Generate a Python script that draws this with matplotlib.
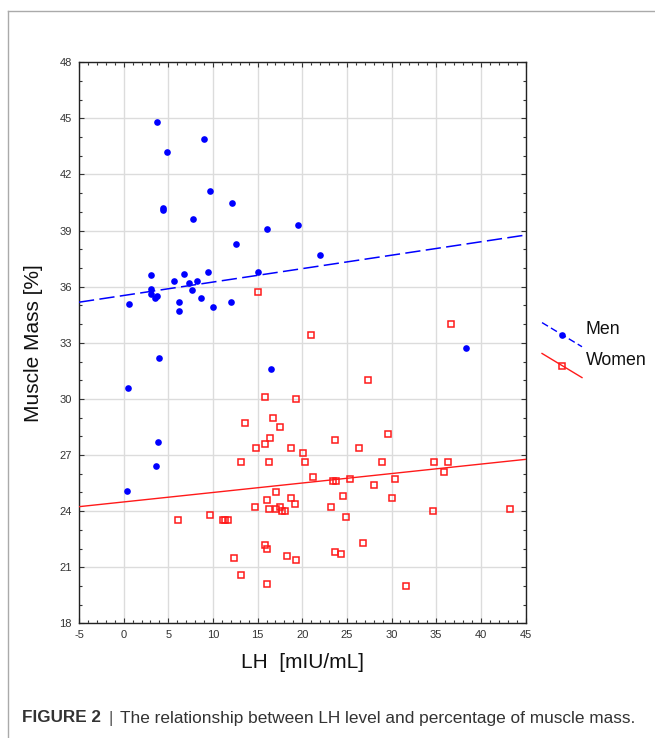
import numpy as np
import matplotlib
matplotlib.use("Agg")
import matplotlib.pyplot as plt
from matplotlib.lines import Line2D
from matplotlib.ticker import MultipleLocator

plt.rcParams['font.family'] = ['Liberation Sans', 'DejaVu Sans']
plt.rcParams['axes.unicode_minus'] = False

# Men: LH [mIU/mL] vs muscle mass [%]
men_lh = [3.7, 9.0, 4.9, 9.7, 12.1, 4.45, 4.45, 7.8, 16.1, 19.5, 12.6, 22.0,
          3.1, 6.8, 9.4, 15.0, 5.6, 7.3, 8.2, 7.7, 3.1, 3.1, 3.7, 3.5,
          0.6, 6.2, 8.7, 12.0, 10.0, 6.2, 4.0, 16.5, 0.5, 3.9, 3.6, 0.4, 38.3]
men_mm = [44.8, 43.9, 43.2, 41.1, 40.5, 40.2, 40.1, 39.6, 39.1, 39.3, 38.3, 37.7,
          36.6, 36.7, 36.8, 36.8, 36.3, 36.2, 36.3, 35.8, 35.9, 35.6, 35.5, 35.4,
          35.1, 35.2, 35.4, 35.2, 34.9, 34.7, 32.2, 31.6, 30.6, 27.7, 26.4, 25.1, 32.7]

# Women
women_lh = [15.0, 36.7, 21.0, 27.4, 15.8, 19.3, 16.7, 13.6, 17.5, 29.6, 16.4,
            23.7, 15.8, 14.8, 18.7, 26.3, 20.1, 13.1, 16.3, 20.3, 28.9, 34.7,
            36.3, 35.9, 21.2, 23.4, 23.8, 25.4, 30.4, 28.0, 17.1, 18.75, 24.6,
            30.1, 16.0, 19.15, 14.75, 16.3, 17.1, 17.5, 17.7, 18.1, 23.2, 24.9,
            34.65, 43.3, 6.1, 9.7, 11.1, 11.4, 11.7, 26.8, 23.7, 24.3, 18.3,
            19.3, 15.8, 16.1, 12.4, 13.1, 16.1, 31.6]
women_mm = [35.7, 34.0, 33.4, 31.0, 30.1, 30.0, 29.0, 28.7, 28.5, 28.1, 27.9,
            27.8, 27.6, 27.4, 27.4, 27.4, 27.1, 26.6, 26.6, 26.6, 26.6, 26.6,
            26.6, 26.1, 25.8, 25.6, 25.6, 25.7, 25.7, 25.4, 25.0, 24.7, 24.8,
            24.7, 24.6, 24.4, 24.2, 24.1, 24.1, 24.2, 24.0, 24.0, 24.2, 23.7,
            24.0, 24.1, 23.5, 23.8, 23.5, 23.5, 23.5, 22.3, 21.8, 21.7, 21.6,
            21.4, 22.2, 22.0, 21.5, 20.6, 20.1, 20.0]

# fitted lines (intercept, slope) as drawn in the figure
men_fit = (35.53, 0.0718)
women_fit = (24.49, 0.0506)

x_ticks = list(range(-5, 50, 5))
y_ticks = list(range(18, 51, 3))

BLUE = '#0000ff'
RED = '#ff1a1a'
DOT_MS = 4.8
SQ_MS = 5.0

fig = plt.figure(figsize=(6.55, 7.38), dpi=100)
ax = fig.add_axes([0.1206, 0.1554, 0.6817, 0.7602])

ax.grid(True, color='#dcdcdc', linewidth=1.0, zorder=0)
ax.set_axisbelow(True)

xs = np.array([-5, 45])
ax.plot(xs, men_fit[0] + men_fit[1] * xs, color=BLUE, lw=1.1,
        dashes=(10, 3.5), zorder=3)
ax.plot(xs, women_fit[0] + women_fit[1] * xs, color=RED, lw=1.0, zorder=3)

ax.plot(men_lh, men_mm, 'o', color=BLUE, markersize=DOT_MS,
        markeredgewidth=0, zorder=4)
ax.plot(women_lh, women_mm, 's', markerfacecolor='none', markeredgecolor=RED,
        markersize=SQ_MS, markeredgewidth=1.1, zorder=4)

ax.set_xlim(-5, 45)
ax.set_ylim(18, 48)
ax.set_xticks(x_ticks)
ax.set_yticks(y_ticks)
ax.xaxis.set_minor_locator(MultipleLocator(1))
ax.yaxis.set_minor_locator(MultipleLocator(1))
ax.tick_params(which='both', direction='in', top=True, right=True,
               color='#333333', width=0.8)
ax.tick_params(which='major', length=3.5, labelsize=8, labelcolor='#333333', pad=5)
ax.tick_params(which='minor', length=2)
for sp in ax.spines.values():
    sp.set_color('#222222')
    sp.set_linewidth(1.0)

ax.set_xlabel('LH  [mIU/mL]', fontsize=15, labelpad=9, color='#111111')
ax.set_ylabel('Muscle Mass [%]', fontsize=15, labelpad=12, color='#111111')

# legend with diagonal sample lines, outside the axes
leg_items = [('Men', BLUE, 'o', (5, 2.5), 0.536),
             ('Women', RED, 's', None, 0.481)]
for label, col, mk, dash, y0 in leg_items:
    kw = dict(color=col, lw=1.0, transform=ax.transAxes, clip_on=False)
    if dash:
        kw['dashes'] = dash
    ax.add_line(Line2D([1.037, 1.1265], [y0, y0 - 0.043], **kw))
    if mk == 'o':
        ax.plot([1.082], [y0 - 0.0215], 'o', color=col, markersize=DOT_MS,
                markeredgewidth=0, transform=ax.transAxes, clip_on=False)
    else:
        ax.plot([1.082], [y0 - 0.0215], 's', markerfacecolor='none',
                markeredgecolor=col, markersize=SQ_MS, markeredgewidth=1.1,
                transform=ax.transAxes, clip_on=False)
    ax.text(1.135, y0 - 0.0125, label, transform=ax.transAxes, fontsize=12.8,
            va='center', ha='left', color='#111111')

# figure frame lines (top and left)
fig.add_artist(Line2D([8 / 655, 1], [1 - 11 / 738] * 2, color='#aaaaaa', lw=1.0))
fig.add_artist(Line2D([8 / 655] * 2, [0, 1 - 11 / 738], color='#aaaaaa', lw=1.0))

# caption
fig.text(22 / 655, 1 - 718 / 738, 'FIGURE 2', fontsize=12.3, fontweight='bold',
         color='#333333', va='center', ha='left')
fig.text(108 / 655, 1 - 718 / 738, '|', fontsize=12.4, color='#555555',
         va='center', ha='left')
fig.text(120 / 655, 1 - 718 / 738,
         'The relationship between LH level and percentage of muscle mass.',
         fontsize=12.4, color='#333333', va='center', ha='left')

fig.savefig('out.png', dpi=100)
